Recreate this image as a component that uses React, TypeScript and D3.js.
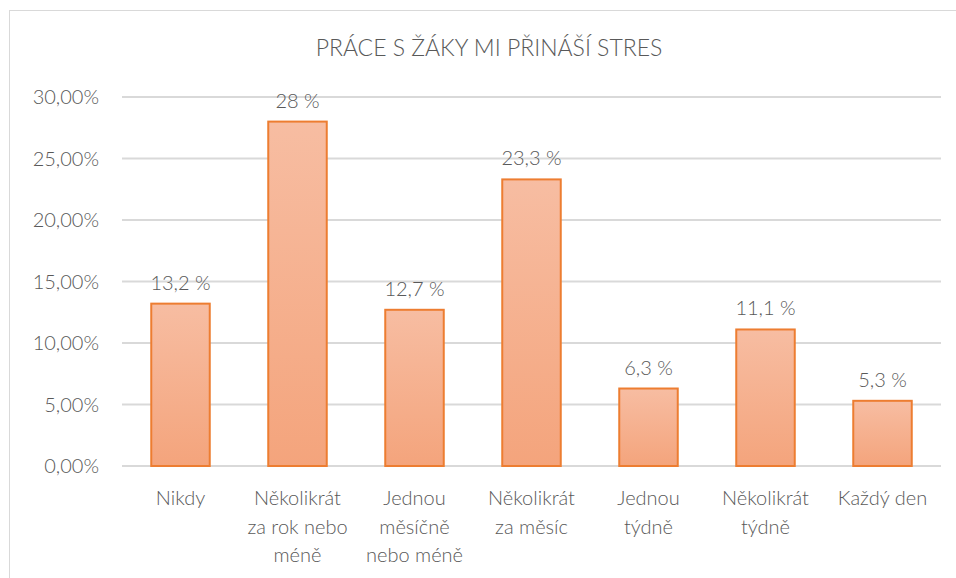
import React from "react";
import * as d3 from "d3";

const categories: string[][] = [
  ["Nikdy"],
  ["Několikrát", "za rok nebo", "méně"],
  ["Jednou", "měsíčně", "nebo méně"],
  ["Několikrát", "za měsíc"],
  ["Jednou", "týdně"],
  ["Několikrát", "týdně"],
  ["Každý den"],
];
const values: number[] = [13.2, 28, 12.7, 23.3, 6.3, 11.1, 5.3];
const valueLabels: string[] = ["13,2 %", "28 %", "12,7 %", "23,3 %", "6,3 %", "11,1 %", "5,3 %"];
const yTicks: number[] = [0, 5, 10, 15, 20, 25, 30];
const title = "PRÁCE S ŽÁKY MI PŘINÁŠÍ STRES";

export default function App() {
  const W = 956, H = 578;
  const left = 122, right = 941, top = 97, bottom = 466;
  const x = d3.scaleBand<number>().domain(d3.range(values.length)).range([left, right]).paddingInner(0.5).paddingOuter(0.25);
  const y = d3.scaleLinear().domain([0, 30]).range([bottom, top]);
  const font = "Lato, 'Open Sans', sans-serif";
  const txt = "#595959";
  const fmt = (v: number) => v.toFixed(2).replace(".", ",") + "%";
  return (
    <svg width={W} height={H} style={{ position: "absolute", left: 0, top: 0, background: "#fff" }} fontFamily={font} fontWeight={300}>
      <defs>
        <linearGradient id="barGrad" x1="0" y1="0" x2="0" y2="1">
          <stop offset="0" stopColor="#F7BDA2" />
          <stop offset="1" stopColor="#F4A47C" />
        </linearGradient>
      </defs>
      <rect x={9.5} y={10.5} width={W + 20} height={H + 20} fill="#fff" stroke="#D9D9D9" />
      <text x={489} y={56} textAnchor="middle" fontSize={23} fill={txt}>{title}</text>
      {yTicks.map((t) => (
        <g key={t}>
          <line x1={left} x2={right} y1={y(t)} y2={y(t)} stroke="#D9D9D9" strokeWidth={2} />
          <text x={99} y={y(t) + 7} textAnchor="end" fontSize={20} fill={txt}>{fmt(t)}</text>
        </g>
      ))}
      {values.map((v, i) => {
        const bx = x(i)!;
        const bw = x.bandwidth();
        return (
          <g key={i}>
            <rect x={bx} y={y(v)} width={bw} height={y(0) - y(v)} fill="url(#barGrad)" stroke="#ED7D31" strokeWidth={2} />
            <text x={bx + bw / 2} y={y(v) - 14} textAnchor="middle" fontSize={20} fill={txt}>{valueLabels[i]}</text>
            {categories[i].map((line, j) => (
              <text key={j} x={bx + bw / 2} y={505 + j * 28.5} textAnchor="middle" fontSize={20} fill={txt}>{line}</text>
            ))}
          </g>
        );
      })}
    </svg>
  );
}
